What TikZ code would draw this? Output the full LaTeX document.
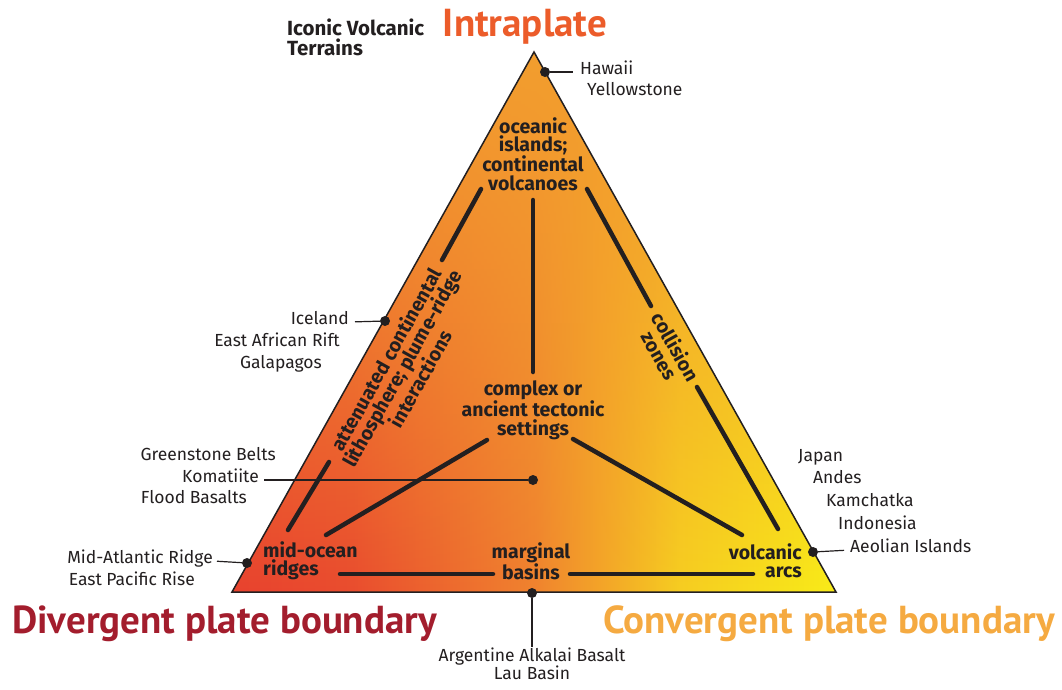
\documentclass[tikz,border=0pt]{standalone}
\usepackage{fontspec}
\setmainfont{Fira Sans}
\newfontfamily\headfont{PT Sans}
\usetikzlibrary{positioning, fadings}

\definecolor{volred}{RGB}{232,66,46}
\definecolor{volorange}{RGB}{243,158,46}
\definecolor{volyellow}{RGB}{249,236,24}
\definecolor{intracol}{RGB}{236,92,42}
\definecolor{divcol}{RGB}{163,29,45}
\definecolor{convcol}{RGB}{245,170,65}
\definecolor{inkcol}{RGB}{35,31,32}

\pgfdeclarehorizontalshading{lava}{100bp}{color(0bp)=(volred); color(25bp)=(volred); color(35bp)=(volred!88!volorange); color(50bp)=(volorange!70!volred); color(62bp)=(volorange!40!volyellow); color(75bp)=(volyellow); color(100bp)=(volyellow)}
\tikzfading[name=fade down, top color=transparent!0, middle color=transparent!70, bottom color=transparent!100]

\tikzset{
  setting/.style={font=\bfseries\fontsize{19.5}{18.4}\selectfont, text=inkcol, align=center, inner sep=0pt},
  example/.style={font=\fontsize{17.5}{18}\selectfont, text=inkcol, inner sep=0pt},
  trend/.style={line width=4.5pt, draw=inkcol, line cap=round},
  leader/.style={line width=1.2pt, draw=inkcol},
  site/.style={circle, fill=inkcol, inner sep=0pt, minimum size=10pt},
  corner/.style={font=\headfont\bfseries\fontsize{39}{39}\selectfont, inner sep=0pt}
}

\begin{document}
\begin{tikzpicture}[x=1pt, y=-1pt]
    \useasboundingbox (0,0) rectangle (1062,689);

    % Coordinates
    \coordinate (top) at (534,52);
    \coordinate (left) at (232,592);
    \coordinate (right) at (836,592);

    % Shading of the ternary field: red-yellow along the base, orange towards the top
    \shade[shading=lava] (top) -- (right) -- (left) -- cycle;
    \fill[volorange, path fading=fade down] (top) -- (right) -- (left) -- cycle;
    \draw[line width=1.5pt, inkcol, line join=miter] (top) -- (right) -- (left) -- cycle;

    % End members
    \node[corner, text=intracol, anchor=base] (intra) at (525,36) {Intraplate};
    \node[corner, text=divcol, anchor=base west] (div) at (12,633) {Divergent plate boundary};
    \node[corner, text=convcol, anchor=base east] (conv) at (1055,633) {Convergent plate boundary};

    \node[setting, font=\bfseries\fontsize{20.5}{19.5}\selectfont, align=left, anchor=base west] (title) at (287,55) {Iconic Volcanic\\Terrains};

    % Settings inside the triangle
    \node[setting] (ocean) at (533,154) {oceanic\\islands;\\continental\\volcanoes};
    \node[setting] (complex) at (533,410) {complex or\\ancient tectonic\\settings};
    \node[setting, align=left, anchor=west] (mor) at (263,561) {mid-ocean\\ridges};
    \node[setting] (basin) at (531,561) {marginal\\basins};
    \node[setting, align=right, anchor=east] (arc) at (802,561) {volcanic\\arcs};
    \node[setting, rotate=60.8] (rift) at (403,369) {attenuated continental\\lithosphere; plume-ridge\\interactions};
    \node[setting, rotate=-60.8] (coll) at (668,351) {collision\\zones};

    % Trend lines
    \coordinate (t1a) at (481,189); \coordinate (t1b) at (442,260);
    \coordinate (t2a) at (329,462); \coordinate (t2b) at (288,530);
    \coordinate (t3a) at (533,200); \coordinate (t3b) at (533,372);
    \coordinate (t4a) at (587,189); \coordinate (t4b) at (651,306);
    \coordinate (t5a) at (697,387); \coordinate (t5b) at (778,529);
    \coordinate (t6a) at (487,440); \coordinate (t6b) at (326,535);
    \coordinate (t7a) at (573,439); \coordinate (t7b) at (742,535);
    \coordinate (t8a) at (340,574); \coordinate (t8b) at (493,574);
    \coordinate (t9a) at (570,574); \coordinate (t9b) at (753,574);
    \foreach \i in {1,...,9}
        \draw[trend] (t\i a) -- (t\i b);

    % Sites
    \node[site] (hawaii) at (545,72) {};
    \node[site] (iceland) at (385,321) {};
    \node[site] (komat) at (533,480) {};
    \node[site] (midatl) at (247,563) {};
    \node[site] (aeolian) at (813,552) {};
    \node[site] (argent) at (532,593) {};

    % Examples
    \node[example, anchor=mid west] (hw) at (580,72) {Hawaii};
    \node[example, anchor=mid west] (ys) at (587,93) {Yellowstone};
    \node[example, anchor=mid east] (ic) at (349,322) {Iceland};
    \node[example, anchor=mid east] (ea) at (340,344) {East African Rift};
    \node[example, anchor=mid east] (ga) at (322,366) {Galapagos};
    \node[example, anchor=mid east] (gb) at (276,458) {Greenstone Belts};
    \node[example, anchor=mid east] (ko) at (259,480) {Komatiite};
    \node[example, anchor=mid east] (fb) at (247,501) {Flood Basalts};
    \node[example, anchor=mid east] (ma) at (213,561) {Mid-Atlantic Ridge};
    \node[example, anchor=mid east] (ep) at (195,583) {East Pacific Rise};
    \node[example, anchor=mid west] (jp) at (798,459) {Japan};
    \node[example, anchor=mid west] (an) at (813,481) {Andes};
    \node[example, anchor=mid west] (ka) at (826,504) {Kamchatka};
    \node[example, anchor=mid west] (id) at (838,527) {Indonesia};
    \node[example, anchor=mid west] (ae) at (850,550) {Aeolian Islands};
    \node[example, align=center, anchor=north] (ab) at (532,648) {Argentine Alkalai Basalt\\Lau Basin};

    % Leaders
    \draw[leader, shorten >=7pt] (hawaii) -- (hw.mid west);
    \draw[leader, shorten >=6pt] (iceland) -- (ic.mid east);
    \draw[leader, shorten >=5pt] (komat) -- (ko.mid east);
    \draw[leader, shorten >=4pt] (midatl) -- (ma.mid east);
    \draw[leader, shorten >=6pt] (aeolian) -- (ae.mid west);
    \draw[leader, shorten >=1pt] (argent) -- (ab.north);
\end{tikzpicture}
\end{document}
